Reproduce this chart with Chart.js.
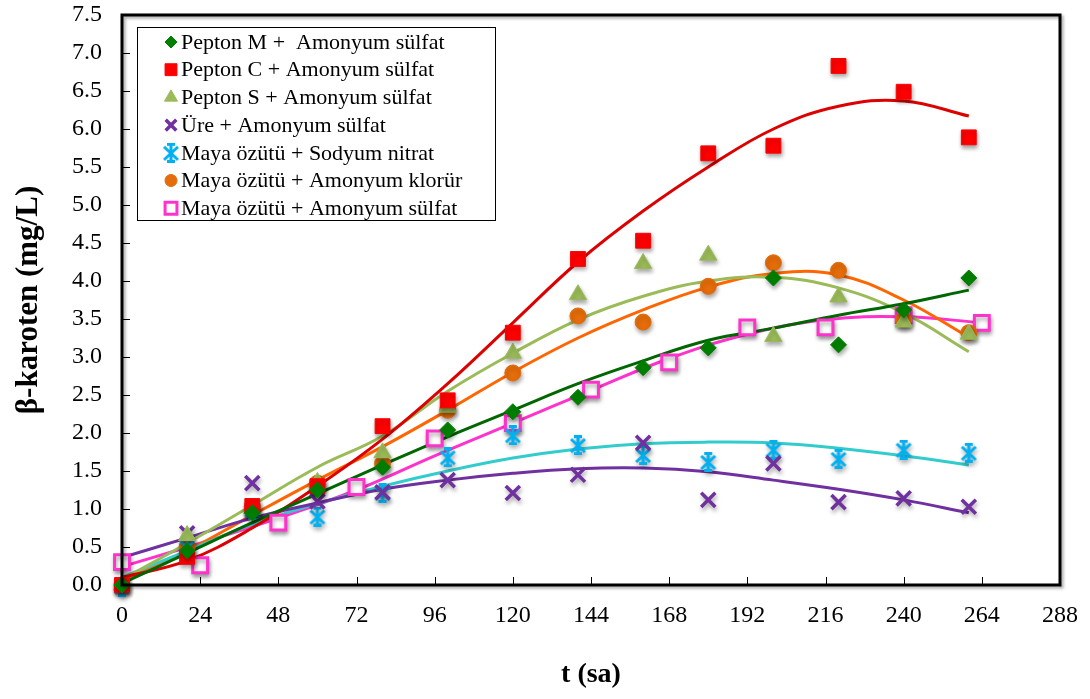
<!DOCTYPE html>
<html>
<head>
<meta charset="utf-8">
<script src="https://cdn.jsdelivr.net/npm/chart.js@4.4.1/dist/chart.umd.min.js"></script>
<style>
  html, body { margin: 0; background: #fff; }
  #wrap { width: 1090px; height: 699px; position: relative; }
</style>
</head>
<body>
<div id="wrap"><canvas id="chart"></canvas></div>
<script>
'use strict';

// sampling times (h)
const hours = [0, 20, 40, 60, 80, 100, 120, 140, 160, 180, 200, 220, 240, 260];
const hoursPink = [0, 24, 48, 72, 96, 120, 144, 168, 192, 216, 240, 264];

const seriesNames = [
  'Pepton M +  Amonyum sülfat',
  'Pepton C + Amonyum sülfat',
  'Pepton S + Amonyum sülfat',
  'Üre + Amonyum sülfat',
  'Maya özütü + Sodyum nitrat',
  'Maya özütü + Amonyum klorür',
  'Maya özütü + Amonyum sülfat',
];

// measured beta-carotene (mg/L)
const peptonM = [0, 0.45, 0.95, 1.25, 1.55, 2.04, 2.28, 2.47, 2.86, 3.12, 4.04, 3.16, 3.62, 4.04];
const peptonC = [0, 0.37, 1.04, 1.30, 2.09, 2.43, 3.32, 4.29, 4.53, 5.68, 5.78, 6.83, 6.49, 5.89];
const peptonS = [0, 0.65, 1.00, 1.35, 1.74, 2.34, 3.05, 3.82, 4.23, 4.34, 3.27, 3.79, 3.46, 3.30];
const ure = [0, 0.68, 1.34, 1.10, 1.22, 1.38, 1.21, 1.45, 1.87, 1.12, 1.60, 1.09, 1.14, 1.03];
const sodyumNitrat = [-0.02, 0.50, 0.99, 0.90, 1.21, 1.68, 1.97, 1.84, 1.71, 1.62, 1.78, 1.66, 1.78, 1.74];
const amonyumKlorur = [0, 0.50, 1.03, 1.34, 1.60, 2.30, 2.79, 3.54, 3.46, 3.93, 4.24, 4.14, 3.49, 3.32];
const mayaSulfat = [0.30, 0.26, 0.82, 1.29, 1.93, 2.13, 2.57, 2.93, 3.39, 3.39, 3.55, 3.45];

// trendline values
const trendPeptonM = [0.02, 0.42, 0.82, 1.20, 1.58, 1.95, 2.30, 2.65, 2.95, 3.22, 3.38, 3.55, 3.70, 3.88];
const trendPeptonC = [0.10, 0.32, 0.75, 1.30, 1.92, 2.65, 3.45, 4.25, 4.92, 5.50, 6.00, 6.30, 6.37, 6.17];
const trendPeptonS = [0.07, 0.55, 1.05, 1.55, 1.96, 2.55, 3.05, 3.49, 3.80, 4.00, 4.05, 3.91, 3.58, 3.07];
const trendUre = [0.36, 0.62, 0.88, 1.08, 1.26, 1.38, 1.47, 1.53, 1.54, 1.49, 1.38, 1.26, 1.12, 0.95];
const trendSodyumNitrat = [0.10, 0.45, 0.80, 1.07, 1.30, 1.50, 1.67, 1.79, 1.86, 1.88, 1.87, 1.80, 1.70, 1.58];
const trendAmonyumKlorur = [0.05, 0.45, 0.92, 1.38, 1.82, 2.30, 2.80, 3.25, 3.62, 3.92, 4.10, 4.08, 3.75, 3.26];
const trendMayaSulfat = [0.24, 0.55, 0.88, 1.25, 1.70, 2.13, 2.56, 2.98, 3.30, 3.49, 3.53, 3.45];

const xTicksMax = 288;
const yTicksMax = 7.5;

const SERIF = '"Liberation Serif", "Times New Roman", serif';

// Excel-like "star" marker: X with a vertical bar and short caps
function starMarker(color) {
  const c = document.createElement('canvas');
  c.width = 18; c.height = 20;
  const g = c.getContext('2d');
  g.strokeStyle = color;
  g.lineWidth = 3;
  g.beginPath();
  g.moveTo(2, 4); g.lineTo(16, 17);
  g.moveTo(16, 4); g.lineTo(2, 17);
  g.moveTo(9, 1); g.lineTo(9, 19);
  g.moveTo(5, 1.5); g.lineTo(13, 1.5);
  g.moveTo(5, 18.5); g.lineTo(13, 18.5);
  g.stroke();
  return c;
}

const markerStyles = [
  { pointStyle: 'rectRot', radius: 8, bg: '#008000', border: '#008000', bw: 1 },
  { pointStyle: 'rect', radius: 10.5, bg: '#FF0000', border: '#FF0000', bw: 1 },
  { pointStyle: 'triangle', radius: 10, bg: '#9BBB59', border: '#9BBB59', bw: 1 },
  { pointStyle: 'crossRot', radius: 10, bg: '#7030A0', border: '#7030A0', bw: 3.5 },
  { pointStyle: starMarker('#00B0F0'), radius: 10, bg: '#00B0F0', border: '#00B0F0', bw: 1 },
  { pointStyle: 'circle', radius: 8, bg: '#E46C0A', border: '#E46C0A', bw: 1 },
  { pointStyle: 'rect', radius: 10.5, bg: '#FFFFFF', border: '#FF33CC', bw: 3 },
];

const trendColors = ['#006600', '#DD0000', '#9BBB59', '#7030A0', '#33CCCC', '#FF6600', '#FF33CC'];

const seriesData = [peptonM, peptonC, peptonS, ure, sodyumNitrat, amonyumKlorur, mayaSulfat];
const trendData = [trendPeptonM, trendPeptonC, trendPeptonS, trendUre, trendSodyumNitrat, trendAmonyumKlorur, trendMayaSulfat];
const xFor = (i) => (i === 6 ? hoursPink : hours);

const toPoints = (xs, ys) => ys.map((y, i) => ({ x: xs[i], y }));

const datasets = [];
trendData.forEach((vals, i) => {
  datasets.push({
    label: seriesNames[i] + ' (trend)',
    isTrend: true,
    data: toPoints(xFor(i), vals),
    showLine: true,
    borderColor: trendColors[i],
    borderWidth: 3,
    pointRadius: 0,
    tension: 0.4,
    fill: false,
    order: 2,
  });
});
seriesData.forEach((vals, i) => {
  const m = markerStyles[i];
  datasets.push({
    label: seriesNames[i],
    data: toPoints(xFor(i), vals),
    showLine: false,
    pointStyle: m.pointStyle,
    pointRadius: m.radius,
    pointBackgroundColor: m.bg,
    pointBorderColor: m.border,
    pointBorderWidth: m.bw,
    clip: false,
    order: 1,
  });
});

// soft drop shadow on markers, like the original spreadsheet chart
const markerShadow = {
  id: 'markerShadow',
  beforeDatasetDraw(chart, args) {
    if (args.meta._dataset.isTrend) return;
    const ctx = chart.ctx;
    ctx.save();
    ctx.shadowColor = 'rgba(0,0,0,0.35)';
    ctx.shadowBlur = 4;
    ctx.shadowOffsetX = 1;
    ctx.shadowOffsetY = 3;
  },
  afterDatasetDraw(chart, args) {
    if (args.meta._dataset.isTrend) return;
    chart.ctx.restore();
  },
};

// plot frame with inward tick marks
const frame = {
  id: 'frame',
  afterDatasetsDraw(chart) {
    const { ctx, chartArea: a, scales } = chart;
    ctx.save();
    ctx.strokeStyle = '#000';
    ctx.lineWidth = 1;
    scales.x.ticks.forEach((t) => {
      const px = Math.round(scales.x.getPixelForValue(t.value)) + 0.5;
      ctx.beginPath();
      ctx.moveTo(px, a.bottom);
      ctx.lineTo(px, a.bottom - 8);
      ctx.stroke();
    });
    scales.y.ticks.forEach((t) => {
      const py = Math.round(scales.y.getPixelForValue(t.value)) + 0.5;
      ctx.beginPath();
      ctx.moveTo(a.left, py);
      ctx.lineTo(a.left + 8, py);
      ctx.stroke();
    });
    ctx.shadowColor = 'rgba(0,0,0,0.35)';
    ctx.shadowBlur = 3;
    ctx.shadowOffsetX = 2;
    ctx.shadowOffsetY = 2;
    ctx.lineWidth = 3;
    ctx.strokeRect(a.left, a.top, a.right - a.left, a.bottom - a.top);
    ctx.restore();
  },
};

// boxed legend in the upper-left corner of the plot
const boxLegend = {
  id: 'boxLegend',
  afterDraw(chart) {
    const { ctx, chartArea: a } = chart;
    const left = a.left + 15, top = a.top + 12;
    const w = 358, h = 193, rowH = 27.7;
    ctx.save();
    ctx.fillStyle = '#fff';
    ctx.fillRect(left, top, w, h);
    ctx.strokeStyle = '#000';
    ctx.lineWidth = 1;
    ctx.strokeRect(left + 0.5, top + 0.5, w, h);
    ctx.font = '22px ' + SERIF;
    ctx.textBaseline = 'middle';
    seriesNames.forEach((name, i) => {
      const m = markerStyles[i];
      const cy = top + 15 + i * rowH;
      const mx = left + 34;
      ctx.fillStyle = m.bg;
      ctx.strokeStyle = m.border;
      ctx.lineWidth = m.bw;
      const r = (m.pointStyle === 'rect') ? m.radius * 0.8 : m.radius * 0.75;
      Chart.helpers.drawPoint(ctx, { pointStyle: m.pointStyle, radius: r, borderWidth: m.bw, rotation: 0 }, mx, cy);
      ctx.fillStyle = '#000';
      ctx.fillText(name, left + 44, cy + 1);
    });
    ctx.restore();
  },
};

new Chart(document.getElementById('chart'), {
  type: 'scatter',
  data: { datasets },
  options: {
    responsive: true,
    maintainAspectRatio: false,
    animation: false,
    devicePixelRatio: 1,
    layout: { padding: 0 },
    plugins: {
      legend: { display: false },
      tooltip: { enabled: false },
    },
    scales: {
      x: {
        type: 'linear',
        min: 0,
        max: xTicksMax,
        grid: { display: false, drawTicks: false },
        border: { display: false },
        ticks: {
          stepSize: 24,
          padding: 16,
          color: '#000',
          font: { family: SERIF, size: 24 },
          maxRotation: 0,
        },
        title: {
          display: true,
          text: 't (sa)',
          color: '#000',
          font: { family: SERIF, size: 28, weight: 'bold' },
          padding: { top: 0, bottom: 7 },
        },
        afterFit: (scale) => {
          scale.height = 114;
          scale.paddingLeft = 0;
          scale.paddingRight = 30;
        },
      },
      y: {
        min: 0,
        max: yTicksMax,
        grid: { display: false, drawTicks: false },
        border: { display: false },
        ticks: {
          stepSize: 0.5,
          padding: 20,
          color: '#000',
          font: { family: SERIF, size: 24 },
          callback: (v) => Number(v).toFixed(1),
        },
        title: {
          display: true,
          text: 'β-karoten (mg/L)',
          color: '#000',
          font: { family: SERIF, size: 31, weight: 'bold' },
          padding: { top: 10, bottom: 0 },
        },
        afterFit: (scale) => {
          scale.width = 122;
          scale.paddingTop = 15;
          scale.paddingBottom = 0;
        },
      },
    },
  },
  plugins: [markerShadow, frame, boxLegend],
});
</script>
</body>
</html>
